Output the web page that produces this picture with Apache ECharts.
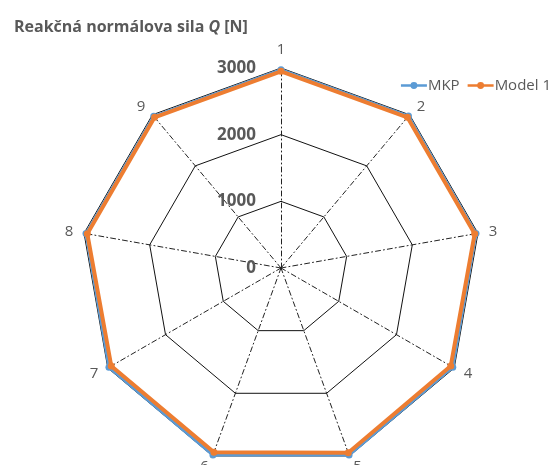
<!DOCTYPE html>
<html>
<head>
<meta charset="utf-8">
<script src="https://cdn.jsdelivr.net/npm/echarts@6/dist/echarts.min.js"></script>
<style>
  html, body { margin: 0; padding: 0; background: #fff; }
  #chart { width: 557px; height: 465px; }
</style>
</head>
<body>
<div id="chart"></div>
<script>
// Radar spokes (points around the circumference, clockwise from the top)
const categories = ['1', '2', '3', '4', '5', '6', '7', '8', '9'];
// Reaction normal force Q [N] at each point
const mkpValues    = [2975, 2975, 2970, 2975, 2985, 2985, 2980, 2970, 2970];
const model1Values = [2950, 2950, 2950, 2940, 2950, 2940, 2940, 2950, 2950];
// Radial scale
const axisMax = 3000;
const axisStep = 1000;

const gray = '#595959';
const fontFamily = '"Open Sans", "Noto Sans", sans-serif';

// ECharts lays radar spokes out counter-clockwise; reorder so they run clockwise
const order = [0].concat(categories.map((_, i) => i).slice(1).reverse());
const cw = arr => order.map(i => arr[i]);

const indicator = cw(categories).map((name, i) => {
  const ind = { name: name, min: 0, max: axisMax };
  if (i === 0) {
    ind.axisLabel = {
      show: true,
      color: gray,
      fontSize: 17,
      fontWeight: 'bold',
      fontFamily: fontFamily,
      margin: 25,
      formatter: v => String(v)
    };
  }
  return ind;
});

const blue = '#5B9BD5';
const orange = '#ED7D31';
// Line with a dot in the middle (both sub-paths wound clockwise)
const legendIcon = 'path://M0,5.5h30v3h-30z M11,7a4,4 0 1,1 8,0a4,4 0 1,1 -8,0z';

const chart = echarts.init(document.getElementById('chart'), null, { renderer: 'canvas' });
chart.setOption({
  backgroundColor: '#ffffff',
  animation: false,
  title: {
    text: '{a|Reakčná normálova sila }{b|Q}{a| [N]}',
    left: 9,
    top: 14,
    textStyle: {
      rich: {
        a: { fontSize: 16, fontWeight: 'bold', color: gray, fontFamily: fontFamily },
        b: { fontSize: 16, fontWeight: 'bold', fontStyle: 'italic', color: gray, fontFamily: fontFamily }
      }
    }
  },
  legend: {
    right: 1,
    top: 73,
    itemWidth: 26,
    itemHeight: 8,
    itemGap: 8,
    icon: legendIcon,
    textStyle: { color: gray, fontSize: 15, fontFamily: fontFamily, padding: [0, 0, 0, -4] },
    data: [
      { name: 'MKP', itemStyle: { color: blue } },
      { name: 'Model 1', itemStyle: { color: orange } }
    ]
  },
  radar: {
    center: [281, 268],
    radius: 200,
    startAngle: 90,
    splitNumber: axisMax / axisStep,
    shape: 'polygon',
    indicator: indicator,
    nameGap: 11,
    axisName: { color: gray, fontSize: 15, fontFamily: fontFamily },
    axisLine: { lineStyle: { color: '#222', width: 1, type: [5, 3, 1, 3] } },
    splitLine: { lineStyle: { color: '#111', width: 1 } },
    splitArea: { show: false },
    axisLabel: { show: false }
  },
  series: [{
    type: 'radar',
    symbol: 'circle',
    symbolSize: 7,
    data: [
      {
        name: 'MKP',
        value: cw(mkpValues),
        lineStyle: { color: blue, width: 3 },
        itemStyle: { color: blue }
      },
      {
        name: 'Model 1',
        value: cw(model1Values),
        lineStyle: { color: orange, width: 4 },
        itemStyle: { color: orange }
      }
    ]
  }]
});
</script>
</body>
</html>
